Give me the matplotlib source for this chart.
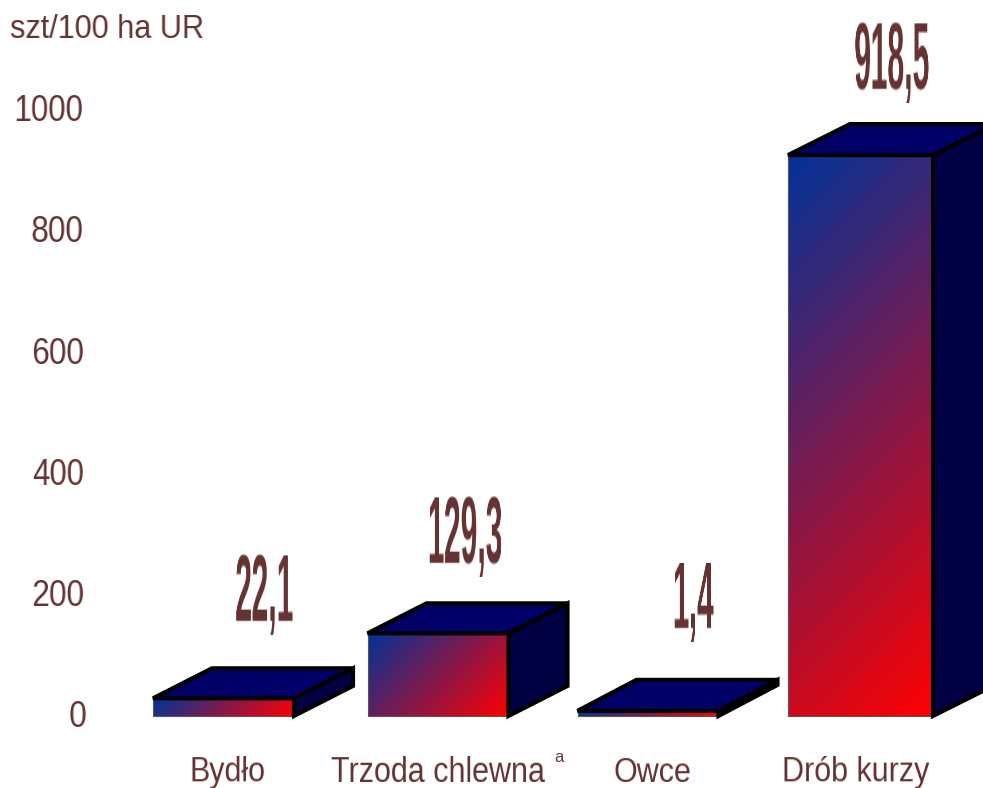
import numpy as np
import matplotlib
matplotlib.use('Agg')
import matplotlib.pyplot as plt
from matplotlib.colors import LinearSegmentedColormap, to_rgb
from matplotlib.patches import Polygon

categories = ['Bydło', 'Trzoda chlewna', 'Owce', 'Drób kurzy']
values = [22.1, 129.3, 1.4, 918.5]
value_labels = ['22,1', '129,3', '1,4', '918,5']
y_ticks = [0, 200, 400, 600, 800, 1000]

TEXT = '#663333'
W, H = 983, 788
PX_PER_UNIT = 0.606
ZERO_PX = 711.7
AX_LEFT, AX_BOTTOM = 90, 730

# layout of the pseudo 3d boxes, in pixels
bar_left = [153, 367.5, 577.5, 788]
bar_width = [141, 141, 141, 145]
depth = [(59, 30), (59, 30), (59, 31), (62, 31)]
label_x = [227, 438, 652, 856]
value_x = [265, 465, 693, 893]
value_y_px = [596, 537, 604, 64]
base = -7

plt.rcParams['font.family'] = ['Liberation Sans']
gradient_cmap = LinearSegmentedColormap.from_list('bar', ['#003399', '#ff0000'])


def squeeze(sx, sy, color=TEXT, shift=0):
    # real text cannot be stretched on one axis, so resample it when drawn
    rgb = to_rgb(color)

    def apply(img, dpi):
        alpha = img[..., 3]
        h, w = alpha.shape
        new_h, new_w = max(1, round(h * sy)), max(1, round(w * sx))
        rows = np.linspace(0, h - 1, new_h)
        cols = np.linspace(0, w - 1, new_w)
        alpha = np.array([np.interp(cols, np.arange(w), r) for r in alpha])
        alpha = np.array([np.interp(rows, np.arange(h), c) for c in alpha.T]).T
        out = np.zeros((new_h, new_w, 4))
        out[..., :3] = rgb
        out[..., 3] = alpha
        return out, int((w - new_w) / 2), int((h - new_h) / 2) - shift

    return apply


fig = plt.figure(figsize=(W / 100, H / 100), dpi=100, facecolor='white')
ax = fig.add_axes([AX_LEFT / W, 1 - AX_BOTTOM / H, 1 - AX_LEFT / W, AX_BOTTOM / H])
ylim = ((ZERO_PX - AX_BOTTOM) / PX_PER_UNIT, ZERO_PX / PX_PER_UNIT)
xlim = (AX_LEFT, W)

for i, v in enumerate(values):
    x0, w = bar_left[i], bar_width[i]
    dx, dy = depth[i]
    dy_u = dy / PX_PER_UNIT
    h_px = (v - base) * PX_PER_UNIT

    xx, yy = np.meshgrid(np.arange(int(w)), np.arange(int(h_px) + 1))
    t = (xx + yy) / (w + h_px)
    ax.imshow(t, cmap=gradient_cmap, vmin=0, vmax=1, aspect='auto', zorder=2,
              extent=(x0, x0 + w, base, v), interpolation='bilinear')
    ax.bar(x0, v - base, width=w, bottom=base, align='edge', facecolor='none',
           edgecolor='#555555', linewidth=0.8, zorder=3)

    side = [(x0 + w, base), (x0 + w + dx, base + dy_u), (x0 + w + dx, v + dy_u), (x0 + w, v)]
    top = [(x0, v), (x0 + dx, v + dy_u), (x0 + w + dx, v + dy_u), (x0 + w, v)]
    ax.add_patch(Polygon(side, facecolor='#000042', edgecolor='black', linewidth=3, zorder=4))
    ax.add_patch(Polygon(top, facecolor='#000066', edgecolor='black', linewidth=3, zorder=5))

    fig.text(value_x[i] / W, 1 - value_y_px[i] / H, value_labels[i],
             ha='center', va='center', fontsize=43, fontweight='bold', color=TEXT,
             agg_filter=squeeze(0.51, 1.58))

ax.set_xlim(xlim)
ax.set_ylim(ylim)
ax.set_xticks(label_x, categories)
ax.set_yticks(y_ticks)
ax.tick_params(length=0, colors=TEXT)
ax.tick_params(axis='x', labelsize=22, pad=20)
ax.tick_params(axis='y', labelsize=26, pad=1.5)
for label in ax.get_xticklabels():
    label.set_agg_filter(squeeze(1.0, 1.11))
for label in ax.get_yticklabels():
    label.set_agg_filter(squeeze(0.87, 1.0, shift=2))
for spine in ax.spines.values():
    spine.set_visible(False)
ax.patch.set_visible(False)

fig.text(2 / W, 1 - 29 / H, 'szt/100 ha UR', fontsize=24, color=TEXT, va='center', ha='left',
         agg_filter=squeeze(0.92, 1.0))
fig.text(559 / W, 1 - 758 / H, 'a', fontsize=12, color=TEXT, va='center', ha='center')

fig.savefig('out.png', dpi=100)
